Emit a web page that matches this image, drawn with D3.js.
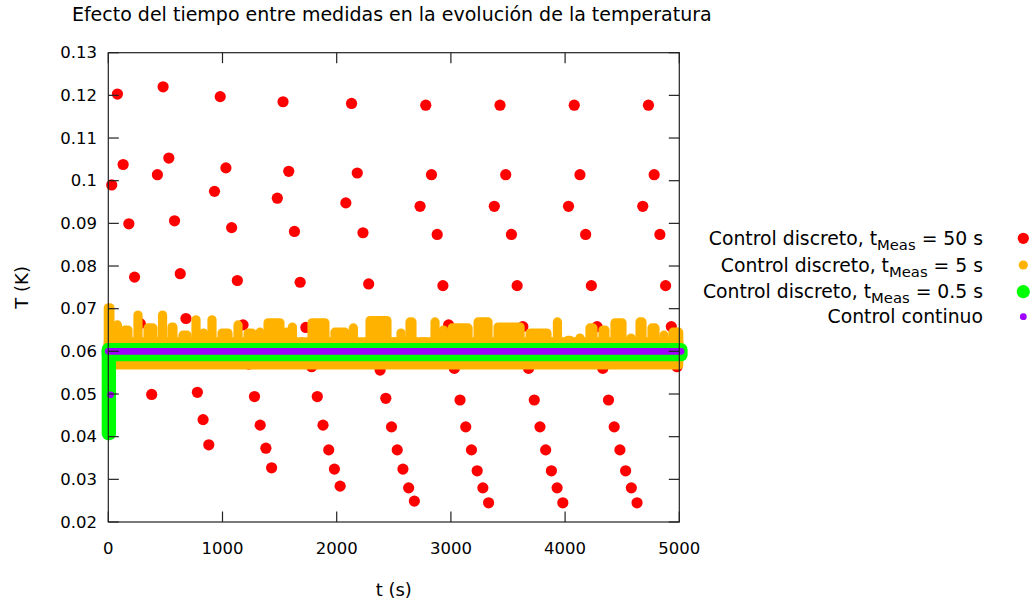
<!DOCTYPE html>
<html>
<head>
<meta charset="utf-8">
<script src="https://cdn.jsdelivr.net/npm/d3@7"></script>
<style>
  html, body { margin: 0; padding: 0; background: #fff; }
  svg { display: block; font-family: "DejaVu Sans", "Verdana", sans-serif; }
</style>
</head>
<body>
<svg id="chart" width="1032" height="605"></svg>
<script>
// ---- text ----
const chartTitle = "Efecto del tiempo entre medidas en la evolución de la temperatura";
const xTitle = "t (s)";
const yTitle = "T (K)";
const xTicks = [0, 1000, 2000, 3000, 4000, 5000];
const yTicks = [0.02, 0.03, 0.04, 0.05, 0.06, 0.07, 0.08, 0.09, 0.10, 0.11, 0.12, 0.13];
const yTickText = ["0.02", "0.03", "0.04", "0.05", "0.06", "0.07", "0.08", "0.09", "0.1", "0.11", "0.12", "0.13"];

// ---- series 1: discrete control, measurement every 50 s ----
const redTime = [30, 80, 130, 180, 230, 280, 330, 380, 430, 480,
  530, 580, 630, 680, 730, 780, 830, 880, 930, 980,
  1030, 1080, 1130, 1180, 1230, 1280, 1330, 1380, 1430, 1480,
  1530, 1580, 1630, 1680, 1730, 1780, 1830, 1880, 1930, 1980,
  2030, 2080, 2130, 2180, 2230, 2280, 2330, 2380, 2430, 2480,
  2530, 2580, 2630, 2680, 2730, 2780, 2830, 2880, 2930, 2980,
  3030, 3080, 3130, 3180, 3230, 3280, 3330, 3380, 3430, 3480,
  3530, 3580, 3630, 3680, 3730, 3780, 3830, 3880, 3930, 3980,
  4030, 4080, 4130, 4180, 4230, 4280, 4330, 4380, 4430, 4480,
  4530, 4580, 4630, 4680, 4730, 4780, 4830, 4880, 4930, 4980];
const redTemp = [0.0990, 0.1203, 0.1038, 0.0899, 0.0774, 0.0665, 0.0576, 0.0499,
  0.1014, 0.1220, 0.1053, 0.0906, 0.0782, 0.0677, 0.0580, 0.0504, 0.0440, 0.0381,
  0.0975, 0.1197, 0.1030, 0.0890, 0.0766, 0.0662, 0.0570, 0.0494, 0.0427, 0.0373, 0.0327,
  0.0959, 0.1185, 0.1022, 0.0881, 0.0762, 0.0656, 0.0564, 0.0494, 0.0427, 0.0369, 0.0324, 0.0284,
  0.0948, 0.1181, 0.1018, 0.0878, 0.0758, 0.0660, 0.0556, 0.0490, 0.0423, 0.0369, 0.0324, 0.0280, 0.0249,
  0.0940, 0.1177, 0.1014, 0.0874, 0.0754, 0.0662, 0.0560, 0.0486, 0.0423, 0.0369, 0.0320, 0.0280, 0.0245,
  0.0940, 0.1177, 0.1014, 0.0874, 0.0754, 0.0658, 0.0560, 0.0486, 0.0423, 0.0369, 0.0320, 0.0280, 0.0245,
  0.0940, 0.1177, 0.1014, 0.0874, 0.0754, 0.0658, 0.0560, 0.0486, 0.0423, 0.0369, 0.0320, 0.0280, 0.0245,
  0.0940, 0.1177, 0.1014, 0.0874, 0.0754, 0.0658, 0.0564];

// ---- series 2: discrete control, measurement every 5 s ----
// Samples are too dense to separate, so each run of samples is kept as
// [first time, last time, highest T, lowest T]; the first run is the
// common body of the whole record.
const orangeStart = [0, 0, 80, 146, 260, 348, 475, 558, 654, 768, 834, 908, 996, 1136, 1224, 1328,
  1399, 1560, 1612, 1696, 1784, 1985, 2146, 2212, 2292, 2506, 2563, 2642, 2747, 2861, 2935,
  3010, 3238, 3413, 3694, 3933, 4025, 4130, 4218, 4332, 4437, 4577, 4656, 4761, 4866, 4945];
const orangeEnd = [4995, 14, 80, 172, 260, 391, 475, 566, 689, 768, 834, 908, 1048, 1136, 1258, 1328,
  1503, 1560, 1612, 1696, 1897, 2072, 2146, 2212, 2440, 2506, 2563, 2659, 2773, 2861, 2935,
  3150, 3325, 3606, 3841, 3933, 4042, 4130, 4244, 4349, 4498, 4577, 4673, 4787, 4866, 4995];
const orangeHigh = [0.0622, 0.0702, 0.0662, 0.0650, 0.0685, 0.0655, 0.0685, 0.0657, 0.0638, 0.0674, 0.0643,
  0.0674, 0.0643, 0.0662, 0.0643, 0.0645, 0.0667, 0.0645, 0.0657, 0.0622, 0.0667,
  0.0645, 0.0655, 0.0620, 0.0672, 0.0622, 0.0643, 0.0669, 0.0622, 0.0669, 0.0650,
  0.0655, 0.0669, 0.0657, 0.0643, 0.0669, 0.0626, 0.0631, 0.0655, 0.0650, 0.0667,
  0.0631, 0.0669, 0.0655, 0.0638, 0.0645];
const orangeLow = [0.0568, 0.0590, 0.0590, 0.0590, 0.0590, 0.0590, 0.0590, 0.0590, 0.0590, 0.0590, 0.0590,
  0.0590, 0.0590, 0.0590, 0.0590, 0.0590, 0.0590, 0.0590, 0.0590, 0.0590, 0.0590,
  0.0590, 0.0590, 0.0590, 0.0590, 0.0590, 0.0590, 0.0590, 0.0590, 0.0590, 0.0590,
  0.0590, 0.0590, 0.0590, 0.0590, 0.0590, 0.0590, 0.0590, 0.0590, 0.0590, 0.0590,
  0.0590, 0.0590, 0.0590, 0.0590, 0.0590];

// ---- series 3: discrete control, measurement every 0.5 s ----
const greenStart = [0, 0];
const greenEnd = [10, 5015];
const greenHigh = [0.0604, 0.0604];
const greenLow = [0.0407, 0.0592];

// ---- series 4: continuous control ----
const purpleStart = [20, 0];
const purpleEnd = [20, 5015];
const purpleHigh = [0.0498, 0.0600];
const purpleLow = [0.0498, 0.0600];

// ---- legend ----
const legendMain = ["Control discreto, t", "Control discreto, t", "Control discreto, t", "Control continuo"];
const legendSub = ["Meas", "Meas", "Meas", ""];
const legendTail = [" = 50 s", " = 5 s", " = 0.5 s", ""];
const seriesColor = ["#ff0000", "#ffb300", "#00ff00", "#a000ff"];
const seriesRadius = [5.6, 4.6, 6.6, 3.4];

// ---- layout ----
const plot = { left: 108.3, right: 679.3, top: 52.7, bottom: 522 };

const svg = d3.select("#chart");
const x = d3.scaleLinear().domain([0, 5000]).range([plot.left, plot.right]);
const y = d3.scaleLinear().domain([0.02, 0.13]).range([plot.bottom, plot.top]);

// red points
svg.append("g").selectAll("circle")
  .data(d3.zip(redTime, redTemp))
  .join("circle")
  .attr("cx", d => x(d[0]))
  .attr("cy", d => y(d[1]))
  .attr("r", seriesRadius[0])
  .attr("fill", seriesColor[0]);

// dense series drawn as the union of their point runs
function drawRuns(starts, ends, highs, lows, color, r) {
  const runs = starts.map((s, i) => ({ s, e: ends[i], hi: highs[i], lo: lows[i] }));
  svg.append("g").selectAll("rect")
    .data(runs)
    .join("rect")
    .attr("x", d => x(d.s) - r)
    .attr("y", d => y(d.hi) - r)
    .attr("width", d => x(d.e) - x(d.s) + 2 * r)
    .attr("height", d => y(d.lo) - y(d.hi) + 2 * r)
    .attr("rx", r).attr("ry", r)
    .attr("fill", color);
}
drawRuns(orangeStart, orangeEnd, orangeHigh, orangeLow, seriesColor[1], seriesRadius[1]);
drawRuns(greenStart, greenEnd, greenHigh, greenLow, seriesColor[2], seriesRadius[2]);
drawRuns(purpleStart, purpleEnd, purpleHigh, purpleLow, seriesColor[3], seriesRadius[3]);

// frame and ticks (mirrored on all four sides, pointing inward)
const frame = svg.append("g").attr("stroke", "#222").attr("stroke-width", 1.2).attr("fill", "none");
frame.append("rect")
  .attr("x", plot.left).attr("y", plot.top)
  .attr("width", plot.right - plot.left).attr("height", plot.bottom - plot.top);
const tickLen = 10.5;
yTicks.forEach(v => {
  frame.append("line").attr("x1", plot.left).attr("x2", plot.left + tickLen).attr("y1", y(v)).attr("y2", y(v));
  frame.append("line").attr("x1", plot.right).attr("x2", plot.right - tickLen).attr("y1", y(v)).attr("y2", y(v));
});
xTicks.forEach(v => {
  frame.append("line").attr("y1", plot.bottom).attr("y2", plot.bottom - tickLen).attr("x1", x(v)).attr("x2", x(v));
  frame.append("line").attr("y1", plot.top).attr("y2", plot.top + tickLen).attr("x1", x(v)).attr("x2", x(v));
});

// tick labels
const tickFont = 16.5;
svg.append("g").selectAll("text")
  .data(yTicks).join("text")
  .attr("x", 97).attr("y", d => y(d))
  .attr("dy", "0.35em")
  .attr("text-anchor", "end")
  .attr("font-size", tickFont)
  .attr("fill", "#000")
  .text((d, i) => yTickText[i]);
svg.append("g").selectAll("text")
  .data(xTicks).join("text")
  .attr("x", d => x(d)).attr("y", 548)
  .attr("dy", "0.35em")
  .attr("text-anchor", "middle")
  .attr("font-size", tickFont)
  .attr("fill", "#000")
  .text(d => String(d));

// titles
svg.append("text")
  .attr("x", (plot.left + plot.right) / 2 - 2).attr("y", 14).attr("dy", "0.35em")
  .attr("text-anchor", "middle").attr("font-size", 19).attr("fill", "#000")
  .text(chartTitle);
svg.append("text")
  .attr("x", (plot.left + plot.right) / 2).attr("y", 590).attr("dy", "0.35em")
  .attr("text-anchor", "middle").attr("font-size", 18).attr("fill", "#000")
  .text(xTitle);
svg.append("text")
  .attr("transform", `translate(22,${(plot.top + plot.bottom) / 2}) rotate(-90)`)
  .attr("dy", "0.35em")
  .attr("text-anchor", "middle").attr("font-size", 18).attr("fill", "#000")
  .text(yTitle);

// legend
const legendY = [238.3, 265, 291.7, 316.7];
const legend = svg.append("g");
legendMain.forEach((txt, i) => {
  const t = legend.append("text")
    .attr("x", 983).attr("y", legendY[i]).attr("dy", "0.35em")
    .attr("text-anchor", "end").attr("font-size", 18.8).attr("fill", "#000");
  t.append("tspan").text(txt);
  if (legendSub[i]) {
    t.append("tspan").attr("font-size", 14.8).attr("dy", 5).text(legendSub[i]);
    t.append("tspan").attr("dy", -5).text(legendTail[i]);
  }
  legend.append("circle")
    .attr("cx", 1023.3).attr("cy", legendY[i])
    .attr("r", seriesRadius[i]).attr("fill", seriesColor[i]);
});
</script>
</body>
</html>
